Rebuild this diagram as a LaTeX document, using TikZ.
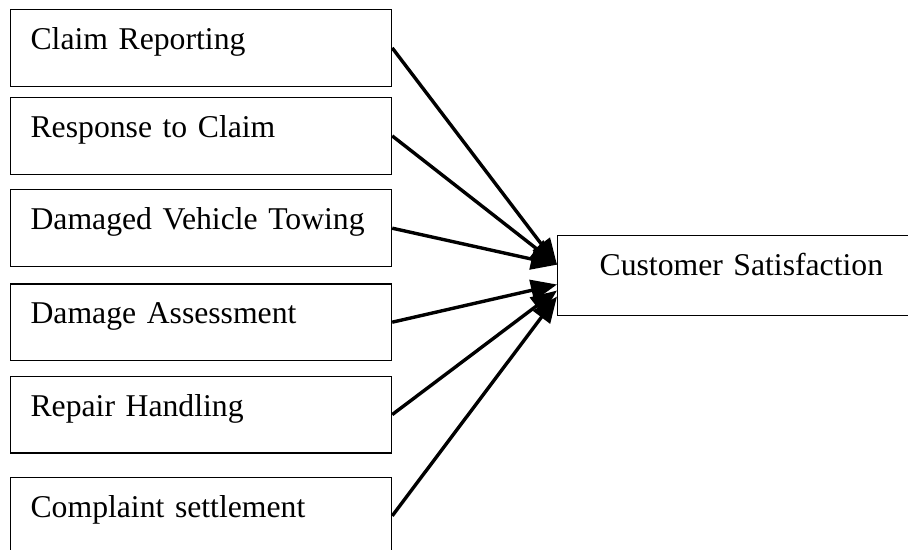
\documentclass[tikz,border=0pt]{standalone}
\usepackage{fontspec}
\setmainfont{Liberation Serif}
\usetikzlibrary{arrows.meta}
\tikzset{
  factor/.style={draw, line width=.6pt, anchor=north west, inner xsep=10pt, inner ysep=0pt,
    text width=170.5pt, align=left, text height=20pt, text depth=18.3pt,
    font=\fontsize{15.85}{19}\selectfont},
  outcome/.style={factor, inner xsep=21pt, text width=200pt, text depth=20pt},
  link/.style={line width=1.7pt, -{Triangle[length=13pt,width=10.5pt]}}
}
\begin{document}
\begin{tikzpicture}[x=.5pt,y=-.5pt]
\clip (0,0) rectangle (908,550);
\foreach \y/\nm/\txt in {9/report/Claim Reporting, 97/respond/Response to Claim,
  189.3/tow/Damaged Vehicle Towing, 283.3/assess/Damage Assessment,
  375.7/repair/Repair Handling, 477/complain/Complaint settlement}
  \node[factor] (\nm) at (10,\y) {\txt};
\node[outcome] (sat) at (557,234.7) {Customer Satisfaction};
\foreach \nm/\dy in {report/5.3, respond/5.3, tow/5.3, assess/-4.6, repair/-7.6, complain/-10.6}
  \draw[link] (\nm.east) -- ([yshift=\dy pt]sat.west);
\end{tikzpicture}
\end{document}
